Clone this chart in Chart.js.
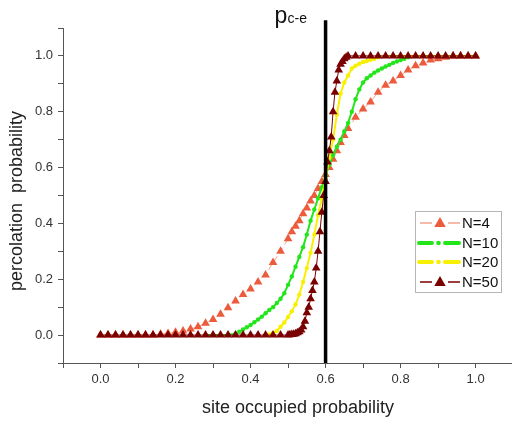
<!DOCTYPE html>
<html>
<head>
<meta charset="utf-8">
<script src="https://cdn.jsdelivr.net/npm/chart.js@4/dist/chart.umd.min.js"></script>
<style>
  html, body { margin: 0; padding: 0; background: #fff; }
  #wrap { width: 512px; height: 424px; }
</style>
</head>
<body>
<div id="wrap"><canvas id="percChart" width="512" height="424"></canvas></div>
<script>
// datos
const xTicks = [0.0, 0.2, 0.4, 0.6, 0.8, 1.0];
const seriesLabels = ['N=4', 'N=10', 'N=20', 'N=50'];
const criticalP = 0.6;

const n4X = [0.00, 0.02, 0.04, 0.06, 0.08, 0.10, 0.12, 0.14, 0.16, 0.18, 0.20, 0.22, 0.24, 0.26, 0.28, 0.30,
  0.32, 0.34, 0.36, 0.38, 0.40, 0.42, 0.44, 0.46, 0.48, 0.50, 0.51, 0.52, 0.53, 0.54, 0.55, 0.56, 0.57, 0.58,
  0.59, 0.60, 0.61, 0.62, 0.63, 0.64, 0.65, 0.66, 0.68, 0.70, 0.72, 0.74, 0.76, 0.78, 0.80, 0.82, 0.84, 0.86,
  0.88, 0.90, 0.92, 0.94, 0.96, 0.98, 1.00];
const n4Y = [0, 0, 0, 0, 0, 0, 0, 0, 0.003, 0.006, 0.010, 0.015, 0.022, 0.030, 0.042, 0.056,
  0.075, 0.098, 0.122, 0.145, 0.165, 0.190, 0.215, 0.260, 0.300, 0.345, 0.370, 0.390, 0.410, 0.435, 0.455, 0.480, 0.500, 0.525,
  0.550, 0.575, 0.600, 0.630, 0.660, 0.690, 0.715, 0.740, 0.780, 0.810, 0.835, 0.870, 0.895, 0.910, 0.930, 0.950, 0.965, 0.975,
  0.985, 0.990, 0.995, 1, 1, 1, 1];

const n10X = [0.28, 0.30, 0.32, 0.34, 0.36, 0.37, 0.38, 0.39, 0.40, 0.41, 0.42, 0.43, 0.44, 0.45, 0.46, 0.47,
  0.48, 0.49, 0.50, 0.51, 0.52, 0.53, 0.54, 0.55, 0.56, 0.57, 0.58, 0.59, 0.60, 0.61, 0.62, 0.63, 0.64, 0.65,
  0.66, 0.67, 0.68, 0.69, 0.70, 0.71, 0.72, 0.73, 0.74, 0.75, 0.76, 0.77, 0.78, 0.79, 0.80, 0.81, 0.82, 0.84,
  0.86, 0.88, 0.90, 0.92, 0.94, 0.96, 0.98, 1.00];
const n10Y = [0, 0, 0, 0, 0.005, 0.012, 0.020, 0.028, 0.036, 0.046, 0.056, 0.066, 0.078, 0.090, 0.100, 0.115,
  0.130, 0.150, 0.180, 0.210, 0.245, 0.280, 0.315, 0.360, 0.410, 0.450, 0.490, 0.530, 0.570, 0.610, 0.645, 0.675, 0.700, 0.730,
  0.760, 0.800, 0.845, 0.880, 0.905, 0.920, 0.930, 0.940, 0.948, 0.955, 0.962, 0.968, 0.975, 0.980, 0.985, 0.990, 0.995, 1,
  1, 1, 1, 1, 1, 1, 1, 1];

const n20X = [0.44, 0.45, 0.46, 0.47, 0.48, 0.49, 0.50, 0.51, 0.52, 0.53, 0.54, 0.55, 0.56, 0.57, 0.58, 0.59,
  0.60, 0.61, 0.62, 0.63, 0.64, 0.65, 0.66, 0.67, 0.68, 0.69, 0.70, 0.71, 0.72, 0.73, 0.74, 0.76, 0.78, 0.80,
  0.82, 0.84, 0.86, 0.88, 0.90, 0.92, 0.94, 0.96, 0.98, 1.00];
const n20Y = [0, 0.002, 0.007, 0.015, 0.030, 0.045, 0.065, 0.085, 0.110, 0.145, 0.190, 0.240, 0.295, 0.360, 0.430, 0.490,
  0.560, 0.635, 0.700, 0.790, 0.865, 0.905, 0.930, 0.955, 0.965, 0.972, 0.978, 0.982, 0.986, 0.990, 0.995, 1, 1, 1,
  1, 1, 1, 1, 1, 1, 1, 1, 1, 1];

const n50X = [0.00, 0.02, 0.04, 0.06, 0.08, 0.10, 0.12, 0.14, 0.16, 0.18, 0.20, 0.22, 0.24, 0.26, 0.28, 0.30,
  0.32, 0.34, 0.36, 0.38, 0.40, 0.42, 0.44, 0.46, 0.48, 0.500, 0.505, 0.510, 0.515, 0.520, 0.525, 0.530, 0.535,
  0.540, 0.545, 0.550, 0.555, 0.560, 0.565, 0.570, 0.575, 0.580, 0.585, 0.590, 0.595, 0.600, 0.605, 0.610, 0.615,
  0.620, 0.625, 0.630, 0.635, 0.640, 0.645, 0.650, 0.655, 0.660, 0.68, 0.70, 0.72, 0.74, 0.76, 0.78, 0.80, 0.82,
  0.84, 0.86, 0.88, 0.90, 0.92, 0.94, 0.96, 0.98, 1.00];
const n50Y = [0, 0, 0, 0, 0, 0, 0, 0, 0, 0, 0, 0, 0, 0, 0, 0,
  0, 0, 0, 0, 0, 0, 0, 0, 0, 0, 0.001, 0.002, 0.003, 0.005, 0.008, 0.012, 0.018,
  0.030, 0.050, 0.080, 0.100, 0.130, 0.160, 0.190, 0.240, 0.300, 0.370, 0.440, 0.500, 0.550, 0.620, 0.660, 0.710,
  0.800, 0.870, 0.910, 0.950, 0.970, 0.980, 0.990, 0.995, 1, 1, 1, 1, 1, 1, 1, 1, 1,
  1, 1, 1, 1, 1, 1, 1, 1, 1];

const toPoints = (xs, ys) => xs.map((x, i) => ({ x: x, y: ys[i] }));

const FONT = "'Liberation Sans', Arial, sans-serif";
Chart.defaults.font.family = FONT;
Chart.defaults.color = '#333';

// estilos por serie (marcadores y lineas)
const estilos = [
  { marker: '#ec5b3b', line: '#f4a48f', style: 'triangle', radius: 5, width: 1, dash: [6, 4] },
  { marker: '#22e61a', line: '#22e61a', style: 'circle', radius: 2.2, width: 2, dash: [] },
  { marker: '#f7f000', line: '#f7f000', style: 'circle', radius: 2.2, width: 2, dash: [] },
  { marker: '#7a0000', line: '#7a0000', style: 'triangle', radius: 5, width: 1, dash: [] }
];

const datosSeries = [toPoints(n4X, n4Y), toPoints(n10X, n10Y), toPoints(n20X, n20Y), toPoints(n50X, n50Y)];

const datasets = datosSeries.map((pts, i) => ({
  label: seriesLabels[i],
  data: pts,
  showLine: true,
  borderColor: estilos[i].line,
  borderWidth: estilos[i].width,
  borderDash: estilos[i].dash,
  backgroundColor: estilos[i].marker,
  pointStyle: estilos[i].style,
  pointRadius: estilos[i].radius,
  pointBorderWidth: 0,
  pointBackgroundColor: estilos[i].marker,
  tension: 0,
  order: 4 - i
}));

// linea vertical del punto critico
datasets.push({
  label: 'pc-e',
  data: [{ x: criticalP, y: -0.1 }, { x: criticalP, y: 1.128 }],
  showLine: true,
  borderColor: '#000',
  borderWidth: 3.5,
  pointRadius: 0,
  clip: false,
  order: 0
});

function tickLabel(value) {
  const v = Math.round(value * 10);
  const match = xTicks.some(t => Math.round(t * 10) === v);
  return match ? (v / 10).toFixed(1) : '';
}

function dibujaTriangulo(ctx, x, y, r, color) {
  ctx.beginPath();
  ctx.moveTo(x, y - r);
  ctx.lineTo(x + r * 0.95, y + r * 0.65);
  ctx.lineTo(x - r * 0.95, y + r * 0.65);
  ctx.closePath();
  ctx.fillStyle = color;
  ctx.fill();
}

const anotaciones = {
  id: 'anotaciones',
  afterDraw(chart) {
    const ctx = chart.ctx;
    const xs = chart.scales.x;
    ctx.save();

    // etiqueta p_c-e
    const px = xs.getPixelForValue(criticalP);
    ctx.fillStyle = '#111';
    ctx.textBaseline = 'alphabetic';
    ctx.textAlign = 'left';
    ctx.font = '23px ' + FONT;
    ctx.fillText('p', px - 51, 23);
    ctx.font = '14px ' + FONT;
    ctx.fillText('c-e', px - 38, 23);

    // titulos de ejes
    ctx.font = '18px ' + FONT;
    ctx.fillStyle = '#222';
    ctx.textAlign = 'center';
    ctx.textBaseline = 'middle';
    ctx.fillText('site occupied probability', 298, 408);
    ctx.save();
    ctx.translate(17, 201);
    ctx.rotate(-Math.PI / 2);
    ctx.fillText('percolation  probability', 0, 0);
    ctx.restore();

    // leyenda
    const bx = 415.5, by = 211.5, bw = 86, bh = 81;
    ctx.fillStyle = '#fff';
    ctx.fillRect(bx, by, bw, bh);
    ctx.strokeStyle = '#b5b5b5';
    ctx.lineWidth = 1;
    ctx.strokeRect(bx, by, bw, bh);

    const filas = [223, 243, 262, 282];
    seriesLabels.forEach((lab, i) => {
      const y = filas[i];
      const e = estilos[i];
      ctx.setLineDash([]);
      if (e.style === 'triangle') {
        ctx.strokeStyle = e.line;
        ctx.lineWidth = 1.5;
        ctx.beginPath();
        ctx.moveTo(420, y); ctx.lineTo(432, y);
        ctx.moveTo(448, y); ctx.lineTo(460, y);
        ctx.stroke();
        dibujaTriangulo(ctx, 440, y, 6, e.marker);
      } else {
        ctx.strokeStyle = e.line;
        ctx.lineWidth = 4;
        ctx.lineCap = 'round';
        ctx.beginPath();
        ctx.moveTo(419, y); ctx.lineTo(432, y);
        ctx.moveTo(445, y); ctx.lineTo(459, y);
        ctx.stroke();
        ctx.beginPath();
        ctx.arc(438.5, y, 2.3, 0, Math.PI * 2);
        ctx.fillStyle = e.marker;
        ctx.fill();
        ctx.lineCap = 'butt';
      }
      ctx.fillStyle = '#111';
      ctx.font = '15px ' + FONT;
      ctx.textAlign = 'left';
      ctx.textBaseline = 'middle';
      ctx.fillText(lab, 462, y + 1);
    });
    ctx.restore();
  }
};

const ctx = document.getElementById('percChart').getContext('2d');
new Chart(ctx, {
  type: 'scatter',
  data: { datasets: datasets },
  plugins: [anotaciones],
  options: {
    responsive: false,
    animation: false,
    layout: { autoPadding: false, padding: { top: 28, right: 0, left: 0, bottom: 0 } },
    plugins: {
      legend: { display: false },
      tooltip: { enabled: false }
    },
    scales: {
      x: {
        type: 'linear',
        min: -0.1,
        max: 1.097,
        afterFit: (s) => { s.height = 61; s.paddingLeft = 0; s.paddingRight = 0; },
        border: { display: true, color: '#555', width: 1 },
        grid: { drawOnChartArea: false, drawTicks: true, tickLength: 5, color: '#555' },
        ticks: {
          stepSize: 0.1,
          includeBounds: false,
          autoSkip: false,
          maxRotation: 0,
          padding: 4,
          font: { size: 13 },
          color: '#333',
          callback: tickLabel
        }
      },
      y: {
        type: 'linear',
        min: -0.1,
        max: 1.1,
        afterFit: (s) => { s.width = 63; },
        border: { display: true, color: '#555', width: 1 },
        grid: { drawOnChartArea: false, drawTicks: true, tickLength: 5, color: '#555' },
        ticks: {
          stepSize: 0.1,
          autoSkip: false,
          padding: 5,
          font: { size: 13 },
          color: '#333',
          callback: tickLabel
        }
      }
    }
  }
});
</script>
</body>
</html>
